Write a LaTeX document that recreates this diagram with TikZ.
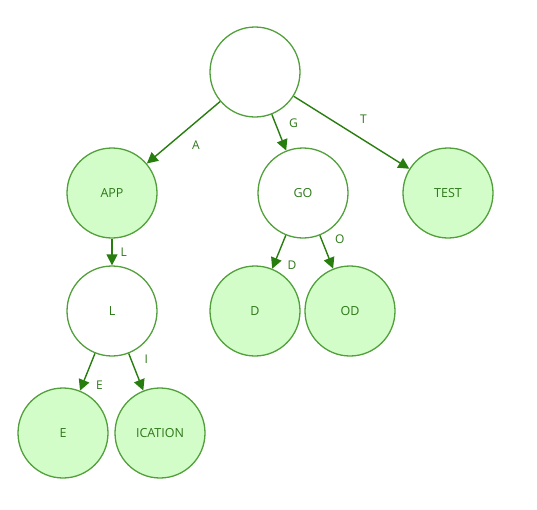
\documentclass[tikz,border=0pt]{standalone}
\usepackage{fontspec}
\setmainfont{Open Sans}
\usepackage{xcolor}
\definecolor{TrieLine}{RGB}{82,160,60}
\definecolor{TrieFill}{RGB}{210,252,200}
\definecolor{TrieText}{RGB}{45,120,25}
\definecolor{TrieEdge}{RGB}{40,125,15}
\usetikzlibrary{arrows.meta}

\begin{document}
\begin{tikzpicture}[x=1pt, y=-1pt,
    trie/.style={circle, draw=TrieLine, line width=1.3pt, minimum size=90pt, inner sep=0pt,
      text=TrieText, font=\fontsize{12.5}{14}\selectfont},
    leaf/.style={trie, fill=TrieFill},
    edge/.style={-{Triangle[length=11pt, width=11pt]}, line width=1.4pt, draw=TrieEdge},
    lbl/.style={auto, text=TrieText, font=\fontsize{12}{14}\selectfont, inner sep=8pt}]
    \useasboundingbox (0,0) rectangle (537,509);
    % trie nodes
    \node[trie] (root) at (255,72) {};
    \node[leaf] (app) at (112,193) {APP};
    \node[trie] (go) at (303,193) {GO};
    \node[leaf] (test) at (448,193) {TEST};
    \node[trie] (l) at (112,311) {L};
    \node[leaf] (d) at (255,311) {D};
    \node[leaf] (od) at (350,311) {OD};
    \node[leaf] (e) at (63,433) {E};
    \node[leaf] (ication) at (160,433) {ICATION};
    % edges
    \draw[edge] (root) -- node[lbl] {A} (app);
    \draw[edge] (root) -- node[lbl, pos=0.6] {G} (go);
    \draw[edge] (root) -- node[lbl] {T} (test);
    \draw[edge] (app) -- node[lbl] {L} (l);
    \draw[edge] (go) -- node[lbl] {D} (d);
    \draw[edge] (go) -- node[lbl] {O} (od);
    \draw[edge] (l) -- node[lbl] {E} (e);
    \draw[edge] (l) -- node[lbl] {I} (ication);
\end{tikzpicture}
\end{document}
